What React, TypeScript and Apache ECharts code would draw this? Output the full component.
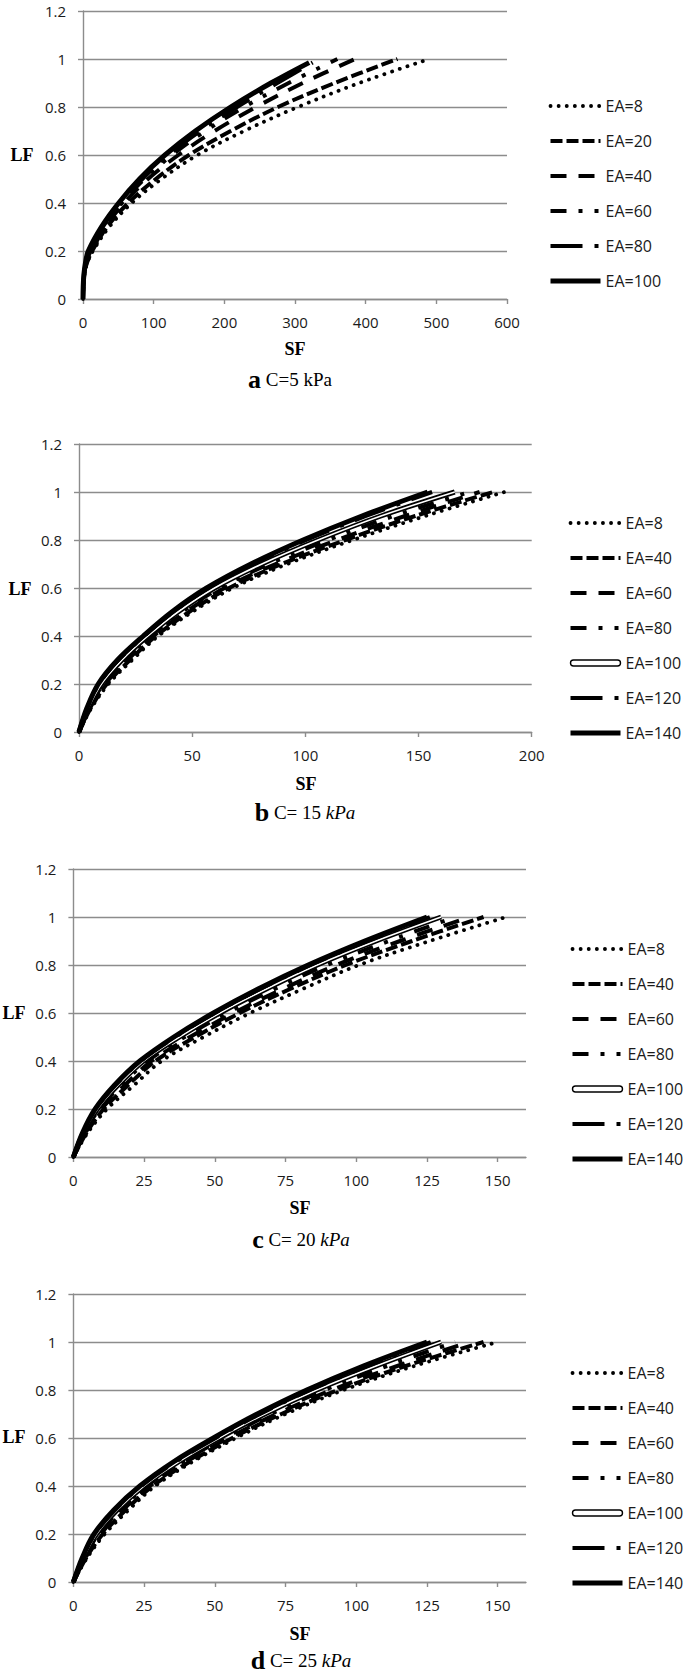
import React, { useEffect, useRef } from 'react';
import * as echarts from 'echarts';

// ---------------- Data ----------------
// Panel a : C = 5 kPa
const A_LF = [0, 0.05, 0.1, 0.15, 0.2, 0.3, 0.4, 0.5, 0.6, 0.7, 0.8, 0.9, 1.0];
const A_LF_TOP = [0, 0.05, 0.1, 0.15, 0.2, 0.3, 0.4, 0.5, 0.6, 0.7, 0.8, 0.9, 0.985];
const A_EA8 = [0, 0.6, 2, 6, 14, 37, 69, 111, 162, 228, 304, 391, 490];
const A_EA20 = [0, 0.5, 1.8, 5.5, 13, 34, 64, 103, 150, 209, 276, 356, 445];
const A_EA40 = [0, 0.45, 1.6, 5, 12, 31.5, 58, 92, 135, 186, 245, 311, 385];
const A_EA60 = [0, 0.4, 1.5, 4.5, 11, 30, 55, 87, 126, 173, 228, 291, 360];
const A_EA80 = [0, 0.35, 1.3, 4, 9, 28, 53, 84, 121, 166, 218, 275, 325];
const A_EA100 = [0, 0.3, 1.2, 3.5, 7.5, 26, 50.5, 80, 116, 159, 209, 266, 320];

// Panels b, c, d share the LF levels
const BCD_LF = [0, 0.1, 0.2, 0.3, 0.4, 0.5, 0.6, 0.7, 0.8, 0.9, 1.0];

// Panel b : C = 15 kPa
const B_EA8 = [0, 5.5, 13, 23.5, 35, 50, 68, 92, 121, 153, 188];
const B_EA40 = [0, 5.2, 12.3, 22.5, 34, 48.6, 66.3, 89.6, 117.7, 148.5, 183];
const B_EA60 = [0, 4.9, 11.6, 21.4, 32.9, 47.1, 64.3, 86.9, 114, 144, 177];
const B_EA80 = [0, 4.5, 10.8, 20.3, 31.7, 45.5, 62.2, 84, 110, 139, 172.5];
const B_EA100 = [0, 4.1, 9.9, 19, 30.4, 43.7, 59.9, 80.8, 105.6, 133.4, 166];
const B_EA120 = [0, 3.6, 8.8, 17.4, 28.8, 41.6, 57.1, 77, 100.4, 126.8, 156];
const B_EA140 = [0, 3.5, 8.5, 17, 28.4, 41, 56.4, 76, 99, 125, 154];

// Panel c : C = 20 kPa
const C_EA8 = [0, 5, 11.9, 21.5, 31.2, 46, 62.5, 81, 101, 126, 153];
const C_EA40 = [0, 4.6, 10.7, 19.4, 29, 43, 58.8, 76.6, 96.3, 119.7, 145];
const C_EA60 = [0, 4.2, 9.9, 18.2, 27.6, 41.2, 56.6, 74, 93, 115.5, 140];
const C_EA80 = [0, 3.9, 9.2, 17, 26.2, 39.3, 54.2, 71.1, 89.6, 111.5, 135];
const C_EA100 = [0, 3.5, 8.5, 15.8, 24.8, 37.5, 51.8, 68.2, 86.2, 107, 130];
const C_EA120 = [0, 3.3, 7.9, 14.9, 23.8, 36, 50, 66, 83.8, 104, 126];
const C_EA140 = [0, 3.2, 7.7, 14.6, 23.5, 35.5, 49.5, 65.3, 83, 103, 125];

// Panel d : C = 25 kPa
const D_EA8 = [0, 4.8, 11.1, 19.5, 28.9, 42, 57.5, 75, 95.5, 120.5, 150];
const D_EA40 = [0, 4.5, 10.4, 18.5, 28, 41, 56.2, 73.5, 93.5, 117.5, 145];
const D_EA60 = [0, 4.2, 9.7, 17.5, 27, 39.8, 54.8, 71.8, 91.3, 114.5, 140];
const D_EA80 = [0, 3.8, 8.9, 16.5, 26, 38.5, 53.3, 69.8, 88.8, 110.8, 135];
const D_EA100 = [0, 3.5, 8.2, 15.5, 24.9, 37.1, 51.6, 67.7, 86, 107, 130];
const D_EA120 = [0, 3.2, 7.6, 14.7, 24, 36, 50.3, 66, 83.7, 104, 126.3];
const D_EA140 = [0, 3.1, 7.3, 14.3, 23.5, 35.3, 49.5, 65, 82.5, 102.5, 125];

const NAMES_A = ['EA=8', 'EA=20', 'EA=40', 'EA=60', 'EA=80', 'EA=100'];
const NAMES_BCD = ['EA=8', 'EA=40', 'EA=60', 'EA=80', 'EA=100', 'EA=120', 'EA=140'];

const X_TICKS_A = [0, 100, 200, 300, 400, 500, 600];
const X_TICKS_B = [0, 50, 100, 150, 200];
const X_TICKS_CD = [0, 25, 50, 75, 100, 125, 150];

const CAPTIONS = [
  { letter: 'a', plain: ' C=5 kPa', italic: '' },
  { letter: 'b', plain: ' C= 15 ', italic: 'kPa' },
  { letter: 'c', plain: ' C= 20 ', italic: 'kPa' },
  { letter: 'd', plain: ' C= 25 ', italic: 'kPa' },
];

// ---------------- Layout & styles ----------------
const KINDS_A = ['dot', 'sysDash', 'dash', 'dashDotDot', 'longDashDot', 'solid'];
const KINDS_BCD = ['dot', 'sysDash', 'dash', 'dashDotDot', 'double', 'longDashDot', 'solid'];

const PANELS = [
  {
    grid: { left: 83, top: 11, width: 424, height: 288 },
    xMax: 600, xInt: 100, xTicks: X_TICKS_A,
    legend: { left: 548, top: 98 },
    lf: [22, 155], sf: [295, 349], cap: [290, 379],
    names: NAMES_A, kinds: KINDS_A,
    xs: [A_EA8, A_EA20, A_EA40, A_EA60, A_EA80, A_EA100],
    ys: [A_LF, A_LF, A_LF, A_LF, A_LF_TOP, A_LF_TOP],
  },
  {
    grid: { left: 79, top: 444, width: 452.7, height: 288 },
    xMax: 200, xInt: 50, xTicks: X_TICKS_B,
    legend: { left: 568, top: 515 },
    lf: [20, 589], sf: [306, 784], cap: [305, 812],
    names: NAMES_BCD, kinds: KINDS_BCD,
    xs: [B_EA8, B_EA40, B_EA60, B_EA80, B_EA100, B_EA120, B_EA140],
    ys: [BCD_LF, BCD_LF, BCD_LF, BCD_LF, BCD_LF, BCD_LF, BCD_LF],
  },
  {
    grid: { left: 73.4, top: 869, width: 452.6, height: 288 },
    xMax: 160, xInt: 25, xTicks: X_TICKS_CD,
    legend: { left: 570, top: 941 },
    lf: [14, 1013], sf: [300, 1208], cap: [301, 1239],
    names: NAMES_BCD, kinds: KINDS_BCD,
    xs: [C_EA8, C_EA40, C_EA60, C_EA80, C_EA100, C_EA120, C_EA140],
    ys: [BCD_LF, BCD_LF, BCD_LF, BCD_LF, BCD_LF, BCD_LF, BCD_LF],
  },
  {
    grid: { left: 73.4, top: 1294, width: 452.6, height: 288 },
    xMax: 160, xInt: 25, xTicks: X_TICKS_CD,
    legend: { left: 570, top: 1365 },
    lf: [14, 1437], sf: [300, 1634], cap: [301, 1660],
    names: NAMES_BCD, kinds: KINDS_BCD,
    xs: [D_EA8, D_EA40, D_EA60, D_EA80, D_EA100, D_EA120, D_EA140],
    ys: [BCD_LF, BCD_LF, BCD_LF, BCD_LF, BCD_LF, BCD_LF, BCD_LF],
  },
];

const GRID_GRAY = '#8c8c8c';
const TEXT = '#1a1a1a';
const SANS = '"Open Sans", "Noto Sans", sans-serif';
const SERIF = '"Liberation Serif", "DejaVu Serif", serif';
const DOUBLE_ICON = 'path://M6,0 H94 A6,6 0 0 1 94,12 H6 A6,6 0 0 1 6,0 Z';

function lineStyleFor(kind: string): any {
  switch (kind) {
    case 'dot':
      return { width: 3.8, type: [0.1, 8], cap: 'round' };
    case 'sysDash':
      return { width: 4, type: [12, 4], cap: 'butt' };
    case 'dash':
      return { width: 4, type: [16, 12], cap: 'butt' };
    case 'dashDotDot':
      return { width: 4, type: [16, 12, 4, 12, 4, 12], cap: 'butt' };
    case 'longDashDot':
      return { width: 4, type: [32, 12, 4, 12], cap: 'butt' };
    case 'double':
      return { width: 5, type: 'solid', cap: 'butt' };
    default:
      return { width: 5, type: 'solid', cap: 'butt' };
  }
}

function buildOption(): any {
  const grid: any[] = [];
  const xAxis: any[] = [];
  const yAxis: any[] = [];
  const legend: any[] = [];
  const series: any[] = [];
  const graphic: any[] = [];

  PANELS.forEach((p, i) => {
    grid.push({ ...p.grid, containLabel: false, outerBoundsMode: 'none' });
    xAxis.push({
      type: 'value',
      gridIndex: i,
      min: 0,
      max: p.xMax,
      interval: p.xInt,
      axisLine: { show: true, lineStyle: { color: GRID_GRAY, width: 1.4 } },
      axisTick: { show: true, length: 5, customValues: p.xTicks, lineStyle: { color: GRID_GRAY, width: 1.4 } },
      axisLabel: {
        customValues: p.xTicks,
        margin: 15,
        fontFamily: SANS,
        fontSize: 15,
        color: TEXT,
      },
      splitLine: { show: false },
    });
    yAxis.push({
      type: 'value',
      gridIndex: i,
      min: 0,
      max: 1.2,
      interval: 0.2,
      axisLine: { show: true, lineStyle: { color: GRID_GRAY, width: 1.4 } },
      axisTick: { show: true, length: 5, lineStyle: { color: GRID_GRAY, width: 1.4 } },
      axisLabel: {
        margin: 17,
        fontFamily: SANS,
        fontSize: 15,
        color: TEXT,
        formatter: (v: number) => String(Math.round(v * 10) / 10),
      },
      splitLine: { show: true, lineStyle: { color: GRID_GRAY, width: 1.4 } },
    });

    const legendData: any[] = [];
    p.names.forEach((n, k) => {
      const sName = `${i}:${n}`;
      const kind = p.kinds[k];
      const ls = lineStyleFor(kind);
      const data = p.xs[k].map((x, j) => [x, p.ys[k][j]]);
      const base: any = {
        type: 'line',
        name: sName,
        xAxisIndex: i,
        yAxisIndex: i,
        data,
        symbol: 'none',
        showSymbol: false,
        smooth: 0.35,
        silent: true,
        emphasis: { disabled: true },
        lineStyle: { ...ls, color: '#000' },
        itemStyle: { color: '#000', opacity: 0 },
      };
      series.push(base);
      if (kind === 'double') {
        series.push({
          ...base,
          name: `${i}:${n}:inner`,
          lineStyle: { width: 1.6, color: '#fff', type: 'solid' },
        });
        legendData.push({
          name: sName,
          icon: DOUBLE_ICON,
          itemStyle: { color: '#fff', borderColor: '#000', borderWidth: 1.4, opacity: 1 },
        });
      } else {
        legendData.push({ name: sName });
      }
    });

    legend.push({
      orient: 'vertical',
      left: p.legend.left,
      top: p.legend.top,
      padding: 0,
      itemWidth: 50,
      itemHeight: 14,
      itemGap: 19,
      selectedMode: false,
      data: legendData,
      formatter: (name: string) => name.split(':')[1],
      textStyle: { fontFamily: SANS, fontSize: 16, color: TEXT, lineHeight: 14 },
      itemStyle: { opacity: 0 },
      lineStyle: { width: 'inherit' },
    });

    graphic.push({
      type: 'text',
      x: p.lf[0],
      y: p.lf[1],
      silent: true,
      style: {
        text: 'LF',
        fontFamily: SERIF,
        fontWeight: 'bold',
        fontSize: 18,
        fill: '#000',
        align: 'center',
        verticalAlign: 'middle',
      },
    });
    graphic.push({
      type: 'text',
      x: p.sf[0],
      y: p.sf[1],
      silent: true,
      style: {
        text: 'SF',
        fontFamily: SERIF,
        fontWeight: 'bold',
        fontSize: 18,
        fill: '#000',
        align: 'center',
        verticalAlign: 'middle',
      },
    });
    const cap = CAPTIONS[i];
    graphic.push({
      type: 'text',
      x: p.cap[0],
      y: p.cap[1],
      silent: true,
      style: {
        text: `{L|${cap.letter}}{N|${cap.plain}}` + (cap.italic ? `{I|${cap.italic}}` : ''),
        align: 'center',
        verticalAlign: 'middle',
        fill: '#000',
        rich: {
          L: { fontFamily: SERIF, fontWeight: 'bold', fontSize: 26, fill: '#000' },
          N: { fontFamily: SERIF, fontSize: 19, fill: '#000' },
          I: { fontFamily: SERIF, fontStyle: 'italic', fontSize: 19, fill: '#000' },
        },
      },
    });
  });

  return {
    animation: false,
    backgroundColor: '#ffffff',
    grid,
    xAxis,
    yAxis,
    legend,
    series,
    graphic,
  };
}

export default function App() {
  const ref = useRef<HTMLDivElement>(null);
  useEffect(() => {
    if (!ref.current) return;
    const chart = echarts.init(ref.current, undefined, { renderer: 'svg' });
    chart.setOption(buildOption());
    return () => chart.dispose();
  }, []);
  return (
    <div
      ref={ref}
      style={{ position: 'absolute', left: 0, top: 0, width: 685, height: 1677, background: '#fff' }}
    />
  );
}
